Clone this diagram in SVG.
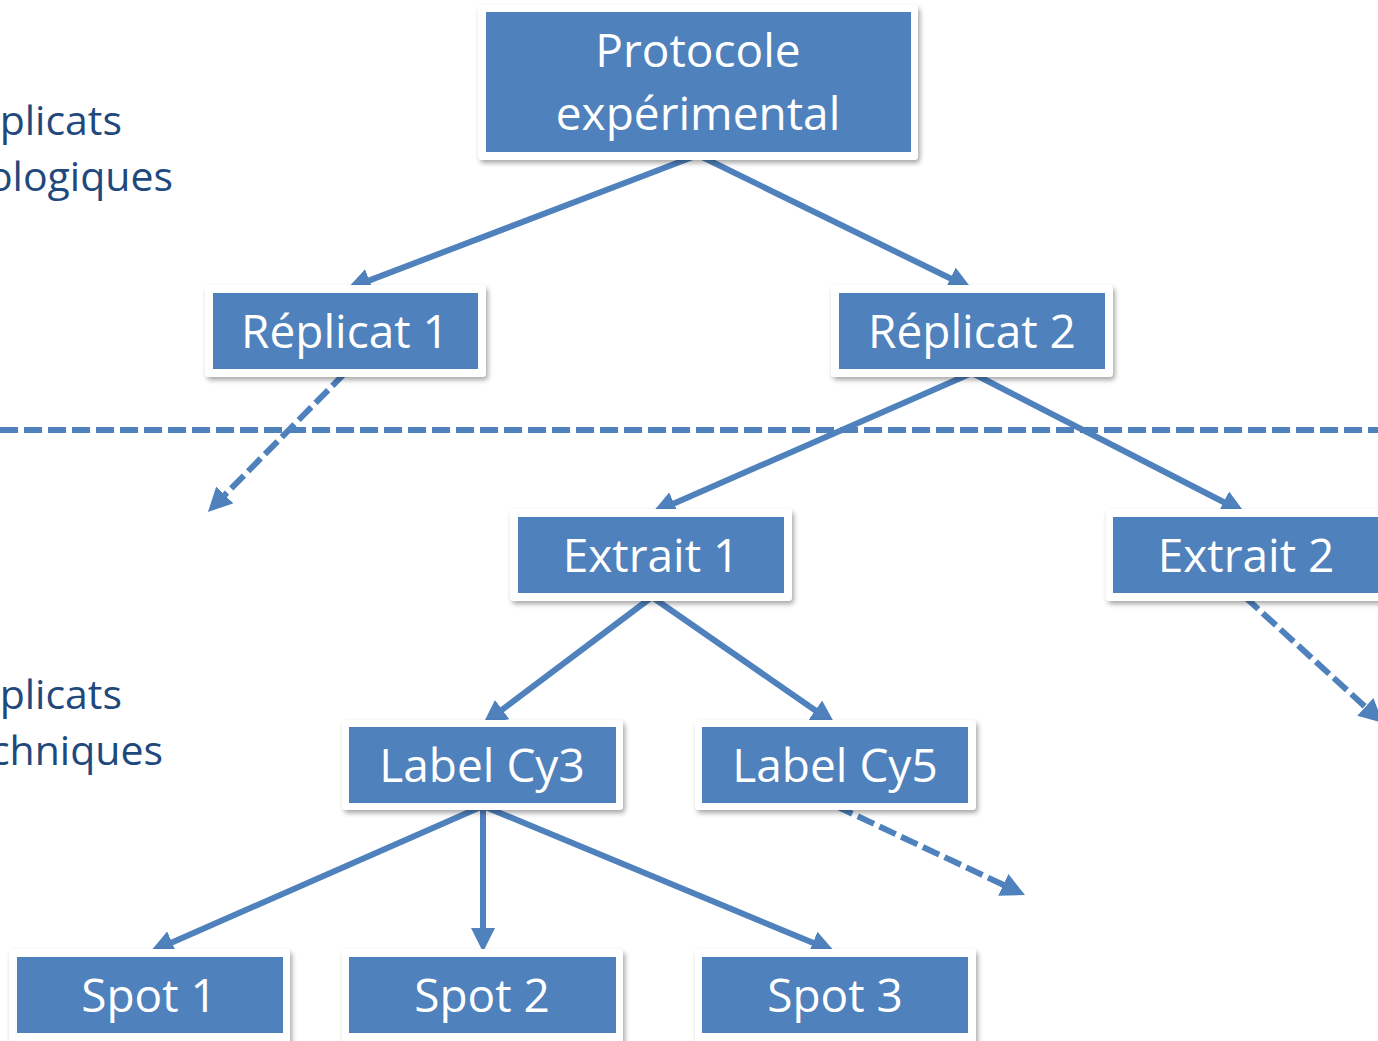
<svg xmlns="http://www.w3.org/2000/svg" width="1378" height="1041" viewBox="0 0 1378 1041">
<style>
.frame{fill:#ffffff;}
.box{fill:#4F81BD;}
.t{font-family:"Open Sans","Noto Sans","DejaVu Sans",sans-serif;font-size:46px;fill:#ffffff;text-anchor:middle;}
.side{font-family:"Open Sans","Noto Sans","DejaVu Sans",sans-serif;font-size:41px;fill:#1F497D;text-anchor:end;}
.c{stroke:#4F81BD;stroke-width:6;fill:none;marker-end:url(#ah);}
.d{stroke-dasharray:18 6;}
.sep{stroke:#4F81BD;stroke-width:6;stroke-dasharray:18 6;fill:none;}
</style>
<defs>
<filter id="sh" x="-10%" y="-20%" width="120%" height="150%">
<feDropShadow dx="2" dy="3" stdDeviation="2.5" flood-color="#000000" flood-opacity="0.35"/>
</filter>
<marker id="ah" viewBox="0 0 24 24" refX="2" refY="12" markerWidth="24" markerHeight="24" markerUnits="userSpaceOnUse" orient="auto">
<path d="M0,0 L24,12 L0,24 Z" fill="#4F81BD"/>
</marker>
</defs>
<rect width="1378" height="1041" fill="#ffffff"/>

<g id="labels">
<text class="side" x="122" y="135">Réplicats</text>
<text class="side" x="173" y="191">biologiques</text>
<text class="side" x="122" y="709">Réplicats</text>
<text class="side" x="163" y="765">techniques</text>
</g>

<line class="sep" x1="0" y1="430" x2="1378" y2="430"/>

<g id="connectors">
<line class="c" x1="698" y1="155" x2="367.5" y2="281.1"/>
<line class="c" x1="698" y1="155" x2="952.2" y2="279.3"/>
<line class="c d" x1="345" y1="373" x2="223.4" y2="496.3"/>
<line class="c" x1="972" y1="373" x2="672.2" y2="504.2"/>
<line class="c" x1="972" y1="373" x2="1225.4" y2="503"/>
<line class="c" x1="652" y1="597" x2="500.6" y2="710.8"/>
<line class="c" x1="652" y1="597" x2="816.9" y2="711.5"/>
<line class="c d" x1="1245" y1="597" x2="1366.8" y2="708.2"/>
<line class="c" x1="483" y1="806" x2="170.2" y2="943.2"/>
<line class="c" x1="483" y1="806" x2="483" y2="930"/>
<line class="c" x1="483" y1="806" x2="814.7" y2="943.6"/>
<line class="c d" x1="836" y1="806" x2="1005.1" y2="885.7"/>
</g>

<g id="protocole">
<rect class="frame" x="478" y="5" width="440" height="155" rx="4" filter="url(#sh)"/>
<rect class="box" x="486" y="12" width="425" height="140"/>
<text class="t" x="698" y="67">Protocole</text>
<text class="t" x="698" y="130">expérimental</text>
</g>
<g id="replicat1">
<rect class="frame" x="205" y="285" width="281" height="92" rx="4" filter="url(#sh)"/>
<rect class="box" x="213" y="293" width="265" height="76"/>
<text class="t" x="345" y="348">Réplicat 1</text>
</g>
<g id="replicat2">
<rect class="frame" x="831" y="285" width="282" height="92" rx="4" filter="url(#sh)"/>
<rect class="box" x="839" y="293" width="266" height="76"/>
<text class="t" x="972" y="348">Réplicat 2</text>
</g>
<g id="extrait1">
<rect class="frame" x="510" y="509" width="282" height="92" rx="4" filter="url(#sh)"/>
<rect class="box" x="518" y="517" width="266" height="76"/>
<text class="t" x="651" y="572">Extrait 1</text>
</g>
<g id="extrait2">
<rect class="frame" x="1106" y="509" width="282" height="92" rx="4" filter="url(#sh)"/>
<rect class="box" x="1113" y="517" width="267" height="76"/>
<text class="t" x="1246" y="572">Extrait 2</text>
</g>
<g id="labelcy3">
<rect class="frame" x="342" y="720" width="281" height="90" rx="4" filter="url(#sh)"/>
<rect class="box" x="349" y="727" width="267" height="76"/>
<text class="t" x="482" y="782">Label Cy3</text>
</g>
<g id="labelcy5">
<rect class="frame" x="695" y="720" width="281" height="90" rx="4" filter="url(#sh)"/>
<rect class="box" x="702" y="727" width="266" height="76"/>
<text class="t" x="835" y="782">Label Cy5</text>
</g>
<g id="spot1">
<rect class="frame" x="9" y="949" width="281" height="100" rx="4" filter="url(#sh)"/>
<rect class="box" x="17" y="957" width="266" height="76"/>
<text class="t" x="149" y="1012">Spot 1</text>
</g>
<g id="spot2">
<rect class="frame" x="342" y="949" width="281" height="100" rx="4" filter="url(#sh)"/>
<rect class="box" x="349" y="957" width="267" height="76"/>
<text class="t" x="482" y="1012">Spot 2</text>
</g>
<g id="spot3">
<rect class="frame" x="695" y="949" width="281" height="100" rx="4" filter="url(#sh)"/>
<rect class="box" x="702" y="957" width="266" height="76"/>
<text class="t" x="835" y="1012">Spot 3</text>
</g>
</svg>
